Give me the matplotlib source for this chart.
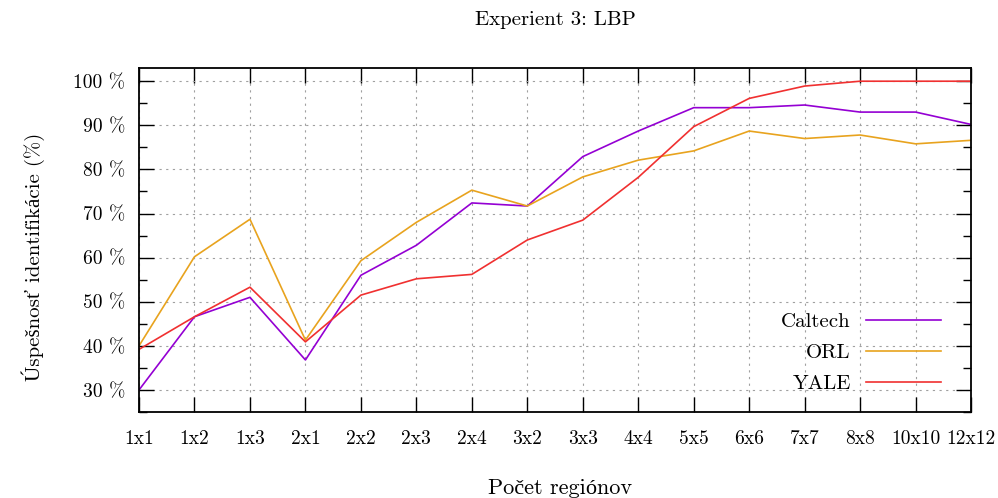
import matplotlib
matplotlib.use("Agg")
import matplotlib.pyplot as plt
from matplotlib.ticker import MultipleLocator, FuncFormatter

plt.rcParams["font.family"] = ["cmr10", "Liberation Serif"]
plt.rcParams["axes.unicode_minus"] = False
plt.rcParams["mathtext.fontset"] = "cm"

regions = ["1x1", "1x2", "1x3", "2x1", "2x2", "2x3", "2x4", "3x2",
           "3x3", "4x4", "5x5", "6x6", "7x7", "8x8", "10x10", "12x12"]

caltech = [30.0, 46.6, 51.0, 36.8, 56.0, 62.8, 72.4, 71.7,
           82.9, 88.7, 94.0, 94.0, 94.6, 93.0, 93.0, 90.2]
orl = [40.0, 60.2, 68.7, 41.3, 59.3, 68.0, 75.3, 71.7,
       78.3, 82.1, 84.2, 88.7, 87.0, 87.8, 85.8, 86.6]
yale = [39.2, 46.6, 53.3, 40.9, 51.5, 55.2, 56.2, 64.0,
        68.5, 78.2, 89.7, 96.1, 98.9, 100.0, 100.0, 100.0]

series = [("Caltech", caltech, "#9400d3"),
          ("ORL", orl, "#e8a31e"),
          ("YALE", yale, "#f03030")]

fig = plt.figure(figsize=(9.98, 4.98), dpi=100)
ax = fig.add_axes([0.1393, 0.1727, 0.8337, 0.6908])

x = list(range(len(regions)))
for name, vals, col in series:
    ax.plot(x, vals, color=col, lw=1.2, label=name)

ax.set_xlim(0, len(regions) - 1)
ax.set_ylim(25, 103)
ax.set_xticks(x)
ax.set_xticklabels(regions)
ax.yaxis.set_major_locator(MultipleLocator(10))
ax.yaxis.set_minor_locator(MultipleLocator(5))
ax.yaxis.set_major_formatter(FuncFormatter(lambda v, p: f"{int(v)} %"))

ax.tick_params(which="both", direction="in", top=True, right=True, labelsize=14, width=1.0)
ax.tick_params(which="major", length=11, pad=13)
ax.tick_params(which="minor", length=5.5)
ax.tick_params(axis="y", which="major", pad=10)
ax.grid(True, which="major", ls=(0, (2, 4)), color="#a0a0a0", lw=0.8)
for s in ax.spines.values():
    s.set_linewidth(1.3)

ax.legend(loc="lower right", bbox_to_anchor=(0.987, 0.0), frameon=False,
          markerfirst=False, handlelength=3.6, handletextpad=0.75,
          labelspacing=0.6, fontsize=15)

fig.text(0.556, 0.96, "Experient 3: LBP", ha="center", va="center", fontsize=15)
fig.text(0.561, 0.02, "Počet regiónov", ha="center", va="center", fontsize=16)
fig.text(0.033, 0.4837, "Úspešnosť identifikácie (%)", ha="center", va="center",
         rotation=90, fontsize=15)

fig.savefig("out.png", dpi=100)
